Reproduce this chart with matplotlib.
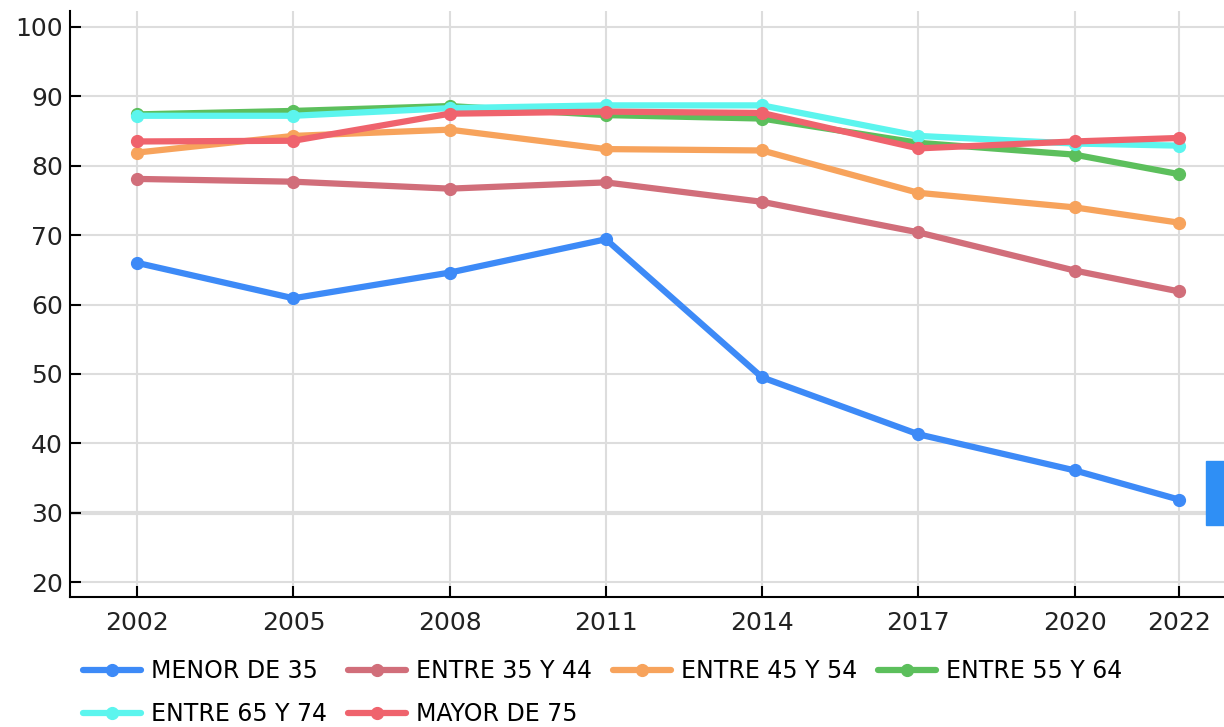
import matplotlib.pyplot as plt
from matplotlib.patches import Rectangle

years = [2002, 2005, 2008, 2011, 2014, 2017, 2020, 2022]

menor_35 = [66.0, 60.9, 64.6, 69.4, 49.5, 41.3, 36.1, 31.9]
entre_35_44 = [78.1, 77.7, 76.7, 77.6, 74.8, 70.4, 64.9, 61.9]
entre_45_54 = [81.9, 84.3, 85.2, 82.4, 82.2, 76.1, 74.0, 71.8]
entre_55_64 = [87.4, 87.9, 88.6, 87.3, 86.8, 83.3, 81.6, 78.8]
entre_65_74 = [87.2, 87.2, 88.3, 88.7, 88.7, 84.3, 83.2, 82.9]
mayor_75 = [83.5, 83.6, 87.5, 87.8, 87.6, 82.5, 83.5, 84.0]

series = [
    ("MENOR DE 35", menor_35, "#3d8af7"),
    ("ENTRE 35 Y 44", entre_35_44, "#d16e7a"),
    ("ENTRE 45 Y 54", entre_45_54, "#f7a35c"),
    ("ENTRE 55 Y 64", entre_55_64, "#5cbf5c"),
    ("ENTRE 65 Y 74", entre_65_74, "#5cf5ee"),
    ("MAYOR DE 75", mayor_75, "#ef636d"),
]

plt.rcParams['font.family'] = ['DejaVu Sans']

fig = plt.figure(figsize=(12.24, 7.27), dpi=100)
ax = fig.add_axes([70/1224, 1 - 597/727, 1 - 70/1224, (597 - 11)/727])

lines = []
for name, vals, col in series:
    ln, = ax.plot(years, vals, color=col, lw=4.5, marker='o', ms=8.5, label=name,
                  solid_capstyle='round', zorder=3)
    lines.append(ln)

ax.set_xlim(2000.71, 2022.87)
ax.set_ylim(17.85, 102.3)
ax.set_xticks(years)
ax.set_yticks(range(20, 101, 10))
ax.grid(True, color='#dddddd', lw=1.5, zorder=0)
ax.axhline(30, color='#dddddd', lw=3, zorder=1)
for s in ['top', 'right']:
    ax.spines[s].set_visible(False)
ax.spines['left'].set_linewidth(1.5)
ax.spines['bottom'].set_linewidth(1.5)
ax.tick_params(axis='both', direction='in', length=8, width=1.5, labelsize=18, colors='black')
ax.tick_params(axis='x', pad=10)
ax.tick_params(axis='y', pad=5)
for lab in ax.get_yticklabels() + ax.get_xticklabels():
    lab.set_color('#222222')

# legend fills column by column, reorder so it reads row by row
order = [0, 4, 1, 5, 2, 3]
ax.legend([lines[i] for i in order], [series[i][0] for i in order],
          loc='upper left', bbox_to_anchor=(0.005, -0.094), ncol=4,
          frameon=False, fontsize=17, handlelength=2.45, handletextpad=0.42,
          columnspacing=0.9, labelspacing=0.8, borderaxespad=0.0, borderpad=0.3)

# blue tab on the right edge
fig.patches.append(Rectangle((1206/1224, 1 - 525/727), 18/1224, 64/727,
                             transform=fig.transFigure, color='#2f8ff5', zorder=5))

fig.savefig('out.png', dpi=100)
